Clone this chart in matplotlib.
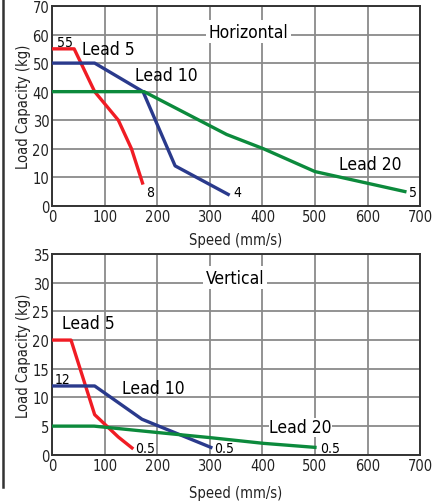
import matplotlib
matplotlib.use('Agg')
import matplotlib.pyplot as plt
from matplotlib.lines import Line2D

plt.rcParams['font.family'] = ['DejaVu Sans']
plt.rcParams['font.stretch'] = 'condensed'

# horizontal mounting
h_lead5_x = [0, 42, 81, 126, 151, 172]
h_lead5_y = [55, 55, 40, 30, 20, 8]
h_lead10_x = [0, 81, 173, 234, 335]
h_lead10_y = [50, 50, 40, 14, 4]
h_lead20_x = [0, 175, 332, 402, 500, 671]
h_lead20_y = [40, 40, 25, 20, 12, 5]

# vertical mounting
v_lead5_x = [0, 36, 81, 126, 152]
v_lead5_y = [20, 20, 7, 3.1, 1.2]
v_lead10_x = [0, 81, 171, 302]
v_lead10_y = [12, 12, 6.2, 1.3]
v_lead20_x = [0, 80, 199, 300, 402, 500]
v_lead20_y = [5, 5, 3.9, 3.0, 2.0, 1.3]

RED = '#f01c24'
BLUE = '#2a3a8c'
GREEN = '#0c8a3c'

fig = plt.figure(figsize=(4.34, 5.02), dpi=100)
ax1 = fig.add_axes([0.120, 0.588, 0.848, 0.398])
ax2 = fig.add_axes([0.120, 0.092, 0.848, 0.400])


def style(ax, ymax, ystep, pad):
    ax.set_xlim(0, 700)
    ax.set_ylim(0, ymax)
    ax.set_xticks(range(0, 701, 100))
    ax.set_yticks(range(0, ymax + 1, ystep))
    ax.grid(color='#8a8a8a', linewidth=1.3)
    ax.set_axisbelow(True)
    for spine in ax.spines.values():
        spine.set_linewidth(1.4)
        spine.set_color('#333333')
    ax.tick_params(length=0, labelsize=10.5, pad=2, colors='#222222')
    ax.set_xlabel('Speed (mm/s)', size=10.5, color='#222222', labelpad=pad)
    ax.set_ylabel('Load Capacity (kg)', size=10.5, color='#222222', labelpad=1)


style(ax1, 70, 10, 6)
ax1.plot(h_lead5_x, h_lead5_y, color=RED, lw=2.4, zorder=3)
ax1.plot(h_lead10_x, h_lead10_y, color=BLUE, lw=2.4, zorder=3)
ax1.plot(h_lead20_x, h_lead20_y, color=GREEN, lw=2.4, zorder=3)

box = dict(facecolor='white', edgecolor='none', pad=2)
ax1.text(373, 61, 'Horizontal', size=12.5, ha='center', va='center', bbox=box)
ax1.text(56, 55, 'Lead 5', size=12.5, ha='left', va='center')
ax1.text(10, 57.5, '55', size=10, ha='left', va='center')
ax1.text(158, 46, 'Lead 10', size=12.5, ha='left', va='center')
ax1.text(545, 14.5, 'Lead 20', size=12.5, ha='left', va='center')
ax1.text(178, 5, '8', size=10, ha='left', va='center')
ax1.text(345, 5, '4', size=10, ha='left', va='center')
ax1.text(679, 5, '5', size=10, ha='left', va='center')

style(ax2, 35, 5, 9)
ax2.plot(v_lead5_x, v_lead5_y, color=RED, lw=2.4, zorder=3)
ax2.plot(v_lead10_x, v_lead10_y, color=BLUE, lw=2.4, zorder=3)
ax2.plot(v_lead20_x, v_lead20_y, color=GREEN, lw=2.4, zorder=3)

ax2.text(348, 30.9, 'Vertical', size=12.5, ha='center', va='center', bbox=box)
ax2.text(18, 22.9, 'Lead 5', size=12.5, ha='left', va='center')
ax2.text(5, 13.3, '12', size=10, ha='left', va='center')
ax2.text(133, 11.6, 'Lead 10', size=12.5, ha='left', va='center')
ax2.text(413, 4.8, 'Lead 20', size=12.5, ha='left', va='center',
         bbox=dict(facecolor='white', edgecolor='none', pad=0.5))
ax2.text(158, 1.2, '0.5', size=10, ha='left', va='center')
ax2.text(308, 1.2, '0.5', size=10, ha='left', va='center')
ax2.text(510, 1.2, '0.5', size=10, ha='left', va='center')

# vertical rule along the left edge
fig.add_artist(Line2D([0.006, 0.006], [1.0, 0.028], color='#333333', lw=1.8))

fig.savefig('out.png', dpi=100)
